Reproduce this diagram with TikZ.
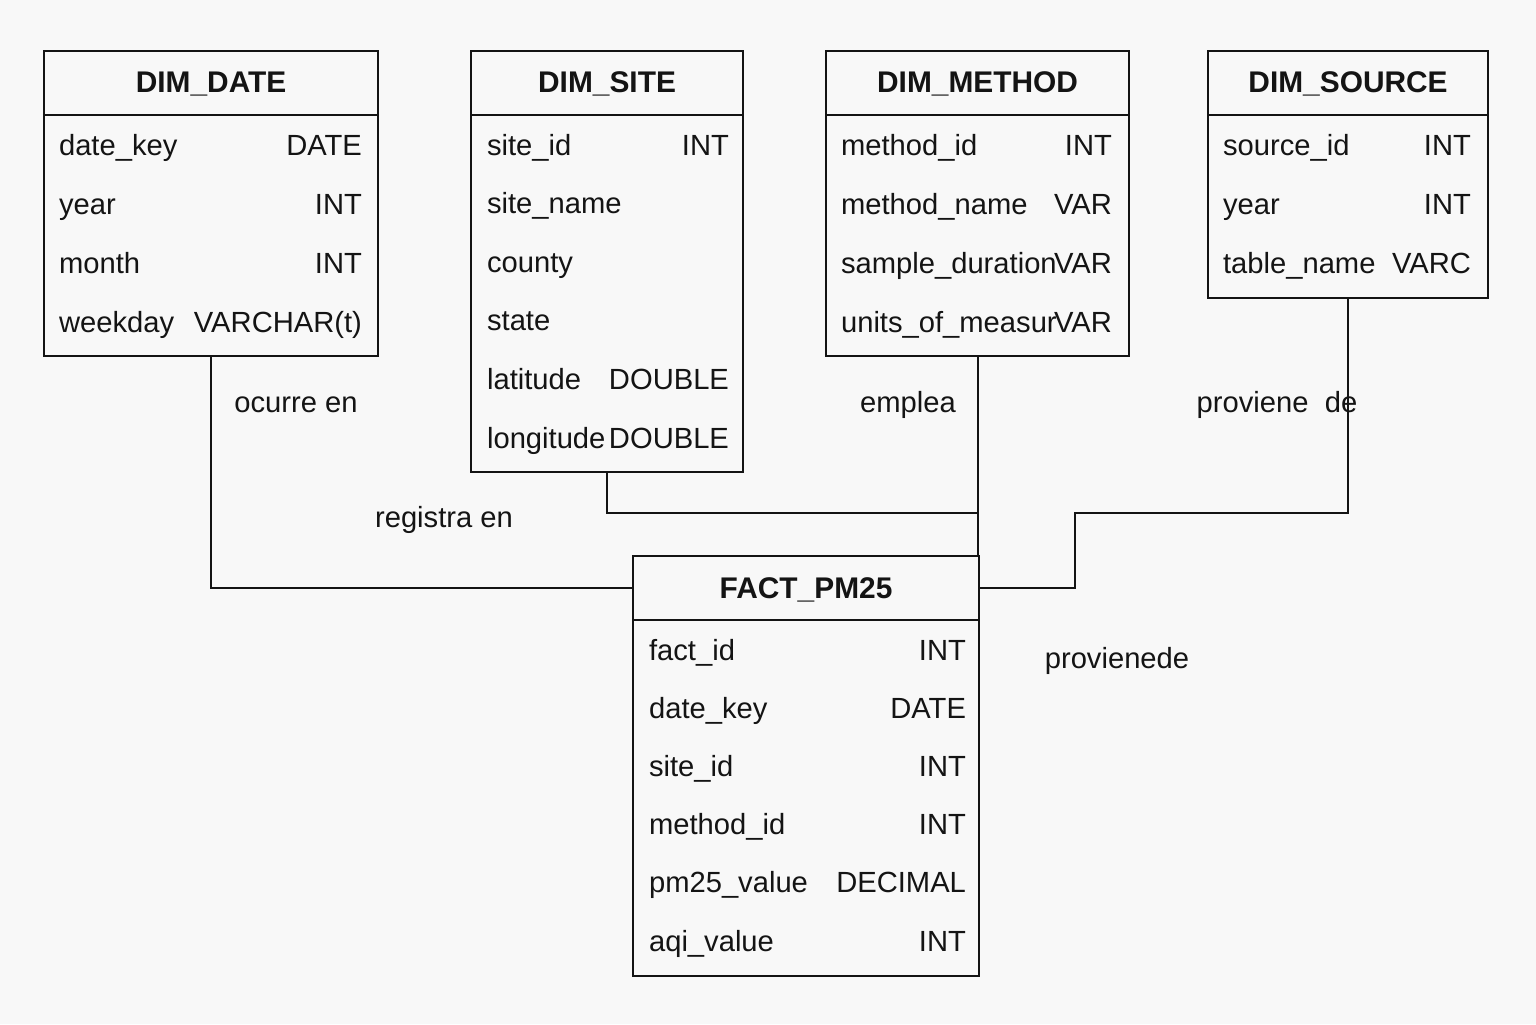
\documentclass[tikz,border=0pt]{standalone}
\usepackage{fontspec}
\setmainfont{Liberation Sans}
\usetikzlibrary{positioning}
\definecolor{bgcol}{RGB}{248,248,248}
\definecolor{inkcol}{RGB}{20,20,20}
\tikzset{%
	tablebox/.style = {draw, rectangle, anchor=north west, inner sep=0pt},
	tabtitle/.style = {rectangle, anchor=north west, inner sep=0pt, minimum height=0.63cm, text depth=0pt, font=\fontsize{8.5}{10}\selectfont\bfseries},
	field/.style    = {anchor=base west, inner sep=0pt, font=\fontsize{8.3}{10}\selectfont},
	ftype/.style    = {anchor=base east, inner sep=0pt, font=\fontsize{8.3}{10}\selectfont},
	rel/.style      = {anchor=base, inner sep=0pt, font=\fontsize{8.3}{10}\selectfont},
}

\begin{document}
\begin{tikzpicture}[line width=0.6pt, draw=inkcol, text=inkcol]
		\fill[bgcol] (0,0) rectangle (15.36,-10.24);
		\useasboundingbox (0,0) rectangle (15.36,-10.24);
		
		% DIM_DATE
		\node[tablebox, minimum width=3.34cm, minimum height=3.05cm] (date) at (0.43,-0.50) {};
		\node[tabtitle, minimum width=3.34cm] (datetitle) at (date.north west) {DIM\_DATE};
		\draw (datetitle.south west) -- (datetitle.south east);
		\foreach \name/\type [count=\i] in {date\_key/DATE, year/INT, month/INT, weekday/VARCHAR(t)} {
			\node[field] (date-n\i) at (0.58,{-0.96-0.59*\i}) {\name};
			\node[ftype] (date-t\i) at (3.63,{-0.96-0.59*\i}) {\type};
		}
		
		% DIM_SITE
		\node[tablebox, minimum width=2.72cm, minimum height=4.21cm] (site) at (4.70,-0.50) {};
		\node[tabtitle, minimum width=2.72cm] (sitetitle) at (site.north west) {DIM\_SITE};
		\draw (sitetitle.south west) -- (sitetitle.south east);
		\foreach \name/\type [count=\i] in {site\_id/INT, site\_name/, county/, state/, latitude/DOUBLE, longitude/DOUBLE} {
			\node[field] (site-n\i) at (4.86,{-0.964-0.586*\i}) {\name};
			\node[ftype] (site-t\i) at (7.30,{-0.964-0.586*\i}) {\type};
		}
		
		% DIM_METHOD
		\node[tablebox, minimum width=3.03cm, minimum height=3.05cm] (method) at (8.25,-0.50) {};
		\node[tabtitle, minimum width=3.03cm] (methodtitle) at (method.north west) {DIM\_METHOD};
		\draw (methodtitle.south west) -- (methodtitle.south east);
		\foreach \name/\type [count=\i] in {method\_id/INT, method\_name/VAR, sample\_duration/VAR, units\_of\_measur/VAR} {
			\node[field] (method-n\i) at (8.40,{-0.96-0.59*\i}) {\name};
			\node[ftype] (method-t\i) at (11.13,{-0.96-0.59*\i}) {\type};
		}
		
		% DIM_SOURCE
		\node[tablebox, minimum width=2.80cm, minimum height=2.47cm] (source) at (12.07,-0.50) {};
		\node[tabtitle, minimum width=2.80cm] (sourcetitle) at (source.north west) {DIM\_SOURCE};
		\draw (sourcetitle.south west) -- (sourcetitle.south east);
		\foreach \name/\type [count=\i] in {source\_id/INT, year/INT, table\_name/VARC} {
			\node[field] (source-n\i) at (12.22,{-0.96-0.59*\i}) {\name};
			\node[ftype] (source-t\i) at (14.72,{-0.96-0.59*\i}) {\type};
		}
		
		% FACT_PM25
		\node[tablebox, minimum width=3.46cm, minimum height=4.20cm] (fact) at (6.32,-5.55) {};
		\node[tabtitle, minimum width=3.46cm] (facttitle) at (fact.north west) {FACT\_PM25};
		\draw (facttitle.south west) -- (facttitle.south east);
		\foreach \name/\type [count=\i] in {fact\_id/INT, date\_key/DATE, site\_id/INT, method\_id/INT, pm25\_value/DECIMAL, aqi\_value/INT} {
			\node[field] (fact-n\i) at (6.48,{-6.018-0.582*\i}) {\name};
			\node[ftype] (fact-t\i) at (9.67,{-6.018-0.582*\i}) {\type};
		}
		
		% relationships
		\coordinate (sitejoin) at (method.south |- 0,-5.13);
		\coordinate (srcbend) at (10.75,-5.13);
		\draw (date.south) |- (facttitle.west);
		\draw (site.south) |- (sitejoin);
		\draw (method.south) -- (method.south |- fact.north);
		\draw (source.south) |- (srcbend) |- (facttitle.east);
		
		\node[rel] (occurs) at (2.96,-4.12) {ocurre en};
		\node[rel] (records) at (4.44,-5.27) {registra en};
		\node[rel] (uses) at (9.08,-4.12) {emplea};
		\node[rel] (comes) at (12.77,-4.12) {proviene\ \ de};
		\node[rel] (comes2) at (11.17,-6.68) {provienede};
	\end{tikzpicture}
\end{document}
